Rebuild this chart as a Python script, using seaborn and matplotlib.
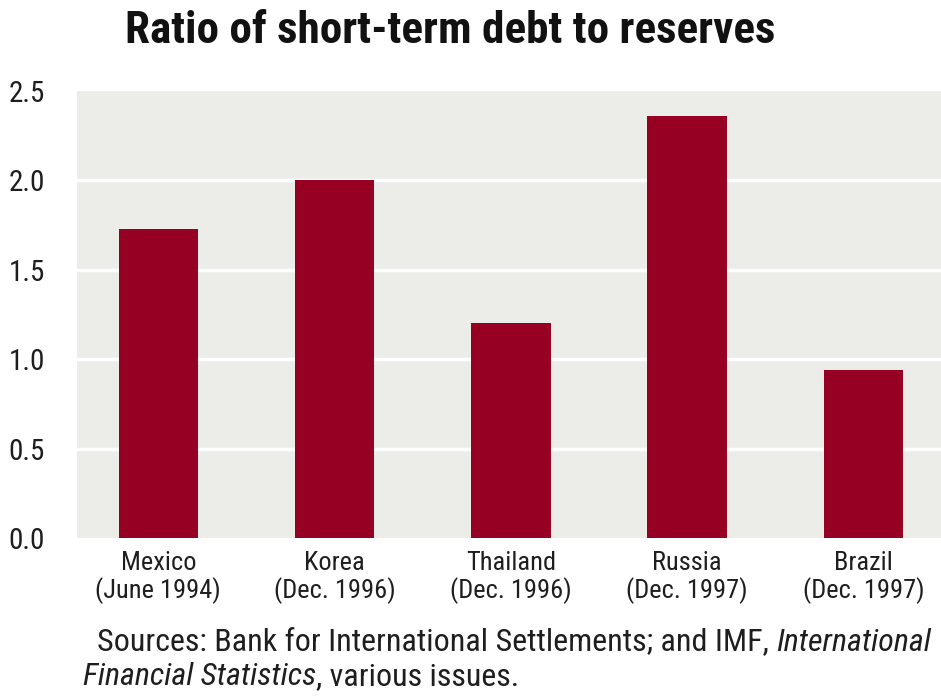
import matplotlib
matplotlib.use("Agg")
import matplotlib.pyplot as plt
import seaborn as sns
import pandas as pd

# Short-term debt relative to reserves, at the onset of each crisis
countries = ["Mexico", "Korea", "Thailand", "Russia", "Brazil"]
dates = ["(June 1994)", "(Dec. 1996)", "(Dec. 1996)", "(Dec. 1997)", "(Dec. 1997)"]
ratios = [1.73, 2.00, 1.20, 2.36, 0.94]
y_ticks = [0.0, 0.5, 1.0, 1.5, 2.0, 2.5]

labels = [f"{c}\n{d}" for c, d in zip(countries, dates)]
df = pd.DataFrame({"label": labels, "ratio": ratios})

sns.set_theme(style="white")
plt.rcParams["font.family"] = ["Roboto Condensed", "DejaVu Sans"]

BAR = "#960022"
PANEL = "#ECEDE9"
INK = "#1e1e1e"

fig = plt.figure(figsize=(9.41, 6.98), dpi=100)
ax = fig.add_axes([0.082, 0.229, 0.918, 0.641])
ax.set_facecolor(PANEL)

sns.barplot(data=df, x="label", y="ratio", color=BAR, saturation=1,
            width=0.45, linewidth=0, ax=ax, zorder=3)

ax.set_ylim(0, 2.5)
ax.set_xlim(-0.46, 4.44)
ax.set_yticks(y_ticks)
ax.set_yticklabels([f"{v:.1f}" for v in y_ticks], fontsize=21, color=INK)
ax.tick_params(axis="x", labelsize=19, colors=INK, length=0, pad=9)
ax.tick_params(axis="y", length=0, pad=23)
for t in ax.get_xticklabels():
    t.set_linespacing(1.1)
ax.set_xlabel("")
ax.set_ylabel("")
for y in y_ticks[1:-1]:
    ax.axhline(y, color="white", lw=2.5, zorder=1)
for s in ax.spines.values():
    s.set_visible(False)

fig.text(0.478, 0.955, "Ratio of short-term debt to reserves", ha="center",
         va="center", fontsize=32.5, fontweight="bold", color="#111111")

src = fig.text(0.103, 0.068, "Sources: Bank for International Settlements; and IMF, ",
               fontsize=23, color=INK, ha="left", va="baseline")
ax.annotate("International", xy=(1, 0), xycoords=src, ha="left", va="bottom",
            fontsize=23, color=INK, style="italic", annotation_clip=False)
src2 = fig.text(0.088, 0.018, "Financial Statistics", fontsize=23, color=INK,
                style="italic", ha="left", va="baseline")
ax.annotate(", various issues.", xy=(1, 0), xycoords=src2, ha="left", va="bottom",
            fontsize=23, color=INK, annotation_clip=False)

fig.savefig("out.png", dpi=100)
